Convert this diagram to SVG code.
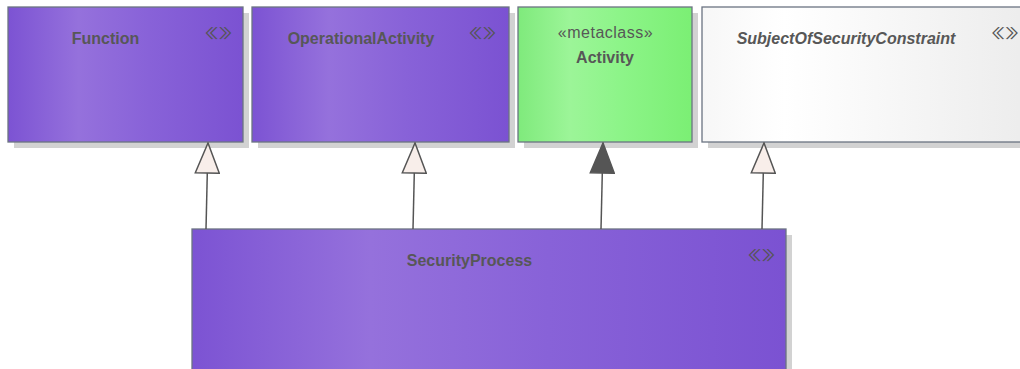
<svg xmlns="http://www.w3.org/2000/svg" width="1020" height="369" viewBox="0 0 1020 369">
  <defs>
    <linearGradient id="gPurple" x1="0" y1="0" x2="1" y2="0">
      <stop offset="0" stop-color="#7c53d3"/>
      <stop offset="0.3" stop-color="#9571dc"/>
      <stop offset="0.6" stop-color="#8862d8"/>
      <stop offset="1" stop-color="#7b52d2"/>
    </linearGradient>
    <linearGradient id="gGreen" x1="0" y1="0" x2="1" y2="0">
      <stop offset="0" stop-color="#7fea7c"/>
      <stop offset="0.3" stop-color="#9cf598"/>
      <stop offset="0.6" stop-color="#8cf488"/>
      <stop offset="1" stop-color="#7bef74"/>
    </linearGradient>
    <linearGradient id="gWhite" x1="0" y1="0" x2="1" y2="0">
      <stop offset="0" stop-color="#f7f7f7"/>
      <stop offset="0.25" stop-color="#ffffff"/>
      <stop offset="1" stop-color="#ececec"/>
    </linearGradient>
    <marker id="genHollow" markerUnits="userSpaceOnUse" markerWidth="32" markerHeight="26" viewBox="0 0 32 26" refX="31" refY="13" orient="auto">
      <path d="M1,1 L31,13 L1,25 Z" fill="#f8eeea" stroke="#555555" stroke-width="1.5" stroke-linejoin="miter"/>
    </marker>
    <marker id="genFilled" markerUnits="userSpaceOnUse" markerWidth="32" markerHeight="26" viewBox="0 0 32 26" refX="31" refY="13" orient="auto">
      <path d="M1,1 L31,13 L1,25 Z" fill="#555555" stroke="#555555" stroke-width="1.5"/>
    </marker>
  </defs>
  <style>
    .shadow { fill: #d2d2d2; }
    .box { stroke: #6b7382; stroke-width: 1.3; }
    .name { font-family: "Liberation Sans", Arial, sans-serif; font-size: 16px; font-weight: bold; fill: #575757; text-anchor: middle; }
    .ital { font-style: italic; }
    .stereo { font-family: "Liberation Sans", Arial, sans-serif; font-size: 16px; letter-spacing: 0.5px; fill: #575757; text-anchor: middle; }
    .icon { font-family: "Noto Sans CJK SC", "Noto Sans CJK JP", sans-serif; font-size: 13px; fill: #555555; text-anchor: middle; }
    .conn { stroke: #555555; stroke-width: 1.5; fill: none; }
  </style>

  <g id="node-Function">
    <rect class="shadow" x="14" y="13" width="235" height="135"/>
    <rect class="box" x="8" y="7" width="235" height="135" fill="url(#gPurple)"/>
    <text class="name" x="105.5" y="44">Function</text>
    <text class="icon" transform="translate(218.5,38) scale(2.1,1)">《》</text>
  </g>

  <g id="node-OperationalActivity">
    <rect class="shadow" x="258" y="13" width="257" height="135"/>
    <rect class="box" x="252" y="7" width="257" height="135" fill="url(#gPurple)"/>
    <text class="name" x="361" y="44">OperationalActivity</text>
    <text class="icon" transform="translate(482.5,38) scale(2.1,1)">《》</text>
  </g>

  <g id="node-Activity">
    <rect class="shadow" x="524" y="13" width="174" height="135"/>
    <rect class="box" x="518" y="7" width="174" height="135" fill="url(#gGreen)"/>
    <text class="stereo" x="605.5" y="38">«metaclass»</text>
    <text class="name" x="605" y="63">Activity</text>
  </g>

  <g id="node-SubjectOfSecurityConstraint">
    <rect class="shadow" x="708" y="13" width="330" height="135"/>
    <rect class="box" x="702" y="7" width="330" height="135" fill="url(#gWhite)"/>
    <text class="name ital" x="846" y="44">SubjectOfSecurityConstraint</text>
    <text class="icon" transform="translate(1005,38) scale(2.1,1)">《》</text>
  </g>

  <g id="node-SecurityProcess">
    <rect class="shadow" x="198" y="235" width="594" height="160"/>
    <rect class="box" x="192" y="229" width="594" height="160" fill="url(#gPurple)"/>
    <text class="name" x="469.5" y="266">SecurityProcess</text>
    <text class="icon" transform="translate(761.5,260) scale(2.1,1)">《》</text>
  </g>

  <g id="connectors">
    <line class="conn" x1="206" y1="229" x2="208" y2="143" marker-end="url(#genHollow)"/>
    <line class="conn" x1="413" y1="229" x2="415" y2="143" marker-end="url(#genHollow)"/>
    <line class="conn" x1="601" y1="229" x2="603" y2="143" marker-end="url(#genFilled)"/>
    <line class="conn" x1="762" y1="229" x2="764" y2="143" marker-end="url(#genHollow)"/>
  </g>
</svg>
